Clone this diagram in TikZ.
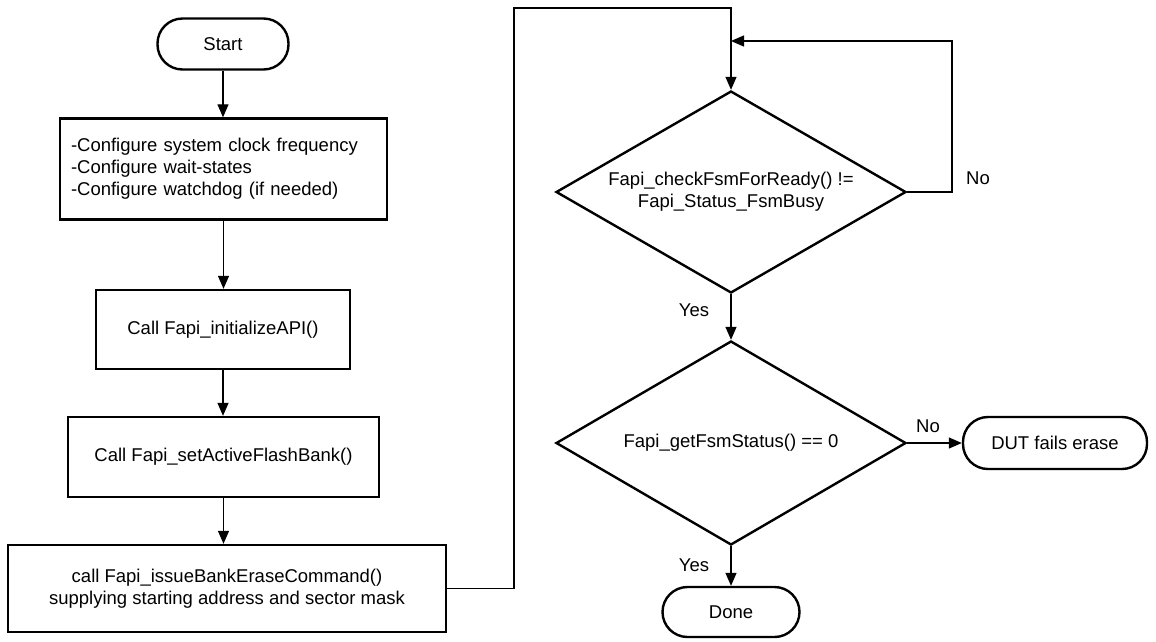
\documentclass[tikz,border=0pt]{standalone}
\usepackage{fontspec}
\setmainfont{Liberation Sans}
\usetikzlibrary{arrows.meta,shapes.geometric}
\begin{document}
\begin{tikzpicture}[x=1pt,y=-1pt,
  font=\fontsize{18.5}{22}\selectfont,
  box/.style={draw,line width=2.4pt,rectangle,inner sep=0pt,align=center},
  term/.style={draw,line width=2.4pt,rectangle,rounded corners=25pt,inner sep=0pt},
  dec/.style={draw,line width=2.4pt,diamond,aspect=1.73,inner sep=0pt,align=center},
  conn/.style={line width=1.3pt,-{Triangle[length=13pt,width=11pt]}},
  lbl/.style={inner sep=0pt}]
\useasboundingbox (0,0) rectangle (1156,641);

\node[term,minimum width=131pt,minimum height=51pt] (start) at (223,44) {Start};
\node[box,minimum width=327pt,minimum height=101pt,text width=305pt,align=left] (cfg) at (223.5,169) {-Configure system clock frequency\\-Configure wait-states\\-Configure watchdog (if needed)};
\node[box,minimum width=254pt,minimum height=79pt] (init) at (223,329.5) {Call Fapi\_initializeAPI()};
\node[box,minimum width=311pt,minimum height=80pt] (bank) at (223.5,457) {Call Fapi\_setActiveFlashBank()};
\node[box,minimum width=438pt,minimum height=87pt] (erase) at (227,588.5) {call Fapi\_issueBankEraseCommand()\\ supplying starting address and sector mask};

\node[dec,minimum width=350pt,minimum height=202pt] (chk) at (731,192) {Fapi\_checkFsmForReady() !=\\Fapi\_Status\_FsmBusy};
\node[dec,minimum width=350pt,minimum height=204pt] (st) at (731,443) {Fapi\_getFsmStatus() == 0};
\node[term,minimum width=137pt,minimum height=50pt] (done) at (731,612) {Done};
\node[term,minimum width=184pt,minimum height=52pt] (fail) at (1055,443) {DUT fails erase};

\draw[conn] (start.south) -- (start.south |- cfg.north);
\draw[conn] (cfg.south) -- (cfg.south |- init.north);
\draw[conn] (init.south) -- (init.south |- bank.north);
\draw[conn] (bank.south) -- (bank.south |- erase.north);

\coordinate (e2) at (514,8);
\draw[conn] (erase.east) -| (e2) -| (chk.north);

\coordinate (f1) at (952,41);
\draw[conn] (chk.east) -| (f1) -- (f1 -| chk.north);

\draw[conn] (chk.south) -- (st.north);
\draw[conn] (st.east) -- (fail.west);
\draw[conn] (st.south) -- (done.north);

\node[lbl] (no1) at (978,178) {No};
\node[lbl] (yes1) at (694,310) {Yes};
\node[lbl] (no2) at (928,426) {No};
\node[lbl] (yes2) at (694,565) {Yes};
\end{tikzpicture}
\end{document}
